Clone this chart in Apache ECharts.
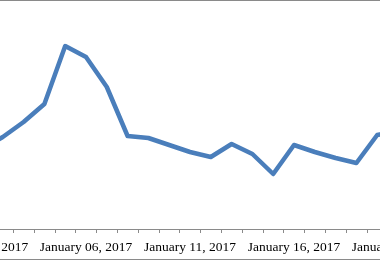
<!DOCTYPE html>
<html>
<head>
<meta charset="utf-8">
<script src="https://cdn.jsdelivr.net/npm/echarts@6/dist/echarts.min.js"></script>
<style>
  html, body { margin: 0; padding: 0; background: #fff; }
  #frame { position: relative; width: 380px; height: 260px; overflow: hidden;
           box-sizing: border-box; border-top: 1px solid #8a8a8a; border-bottom: 1px solid #8a8a8a; }
  #chart { position: absolute; left: -80px; top: -1px; width: 580px; height: 260px; }
</style>
</head>
<body>
<div id="frame"><div id="chart"></div></div>
<script>
// Categories (daily dates)
const categories = [
  'January 01, 2017','January 02, 2017','January 03, 2017','January 04, 2017','January 05, 2017',
  'January 06, 2017','January 07, 2017','January 08, 2017','January 09, 2017','January 10, 2017',
  'January 11, 2017','January 12, 2017','January 13, 2017','January 14, 2017','January 15, 2017',
  'January 16, 2017','January 17, 2017','January 18, 2017','January 19, 2017','January 20, 2017',
  'January 21, 2017'
];
// Series values (arbitrary units)
const values = [
  40, 46, 53.5, 62.5, 91.5,
  86, 71, 46.5, 45.5, 42,
  38.5, 36, 42.5, 37.5, 27.5,
  42, 38.5, 35.5, 33, 47,
  49
];
const yMin = 0;
const yMax = 100;

const chart = echarts.init(document.getElementById('chart'), null, { renderer: 'canvas' });
chart.setOption({
  animation: false,
  grid: { left: 51.6, width: 436.8, top: 29, bottom: 31, containLabel: false },
  xAxis: {
    type: 'category',
    data: categories,
    boundaryGap: true,
    axisLine: { lineStyle: { color: '#8a8a8a', width: 1 } },
    axisTick: { show: true, interval: 0, length: 4, lineStyle: { color: '#8a8a8a' } },
    axisLabel: {
      interval: 4,
      margin: 11,
      color: '#000',
      fontFamily: 'Liberation Serif',
      fontSize: 13.5
    }
  },
  yAxis: {
    type: 'value',
    min: yMin,
    max: yMax,
    show: false,
    splitLine: { show: false }
  },
  series: [{
    type: 'line',
    data: values,
    showSymbol: false,
    lineStyle: { color: '#4a7ebb', width: 4.5, join: 'round' }
  }]
});
</script>
</body>
</html>
